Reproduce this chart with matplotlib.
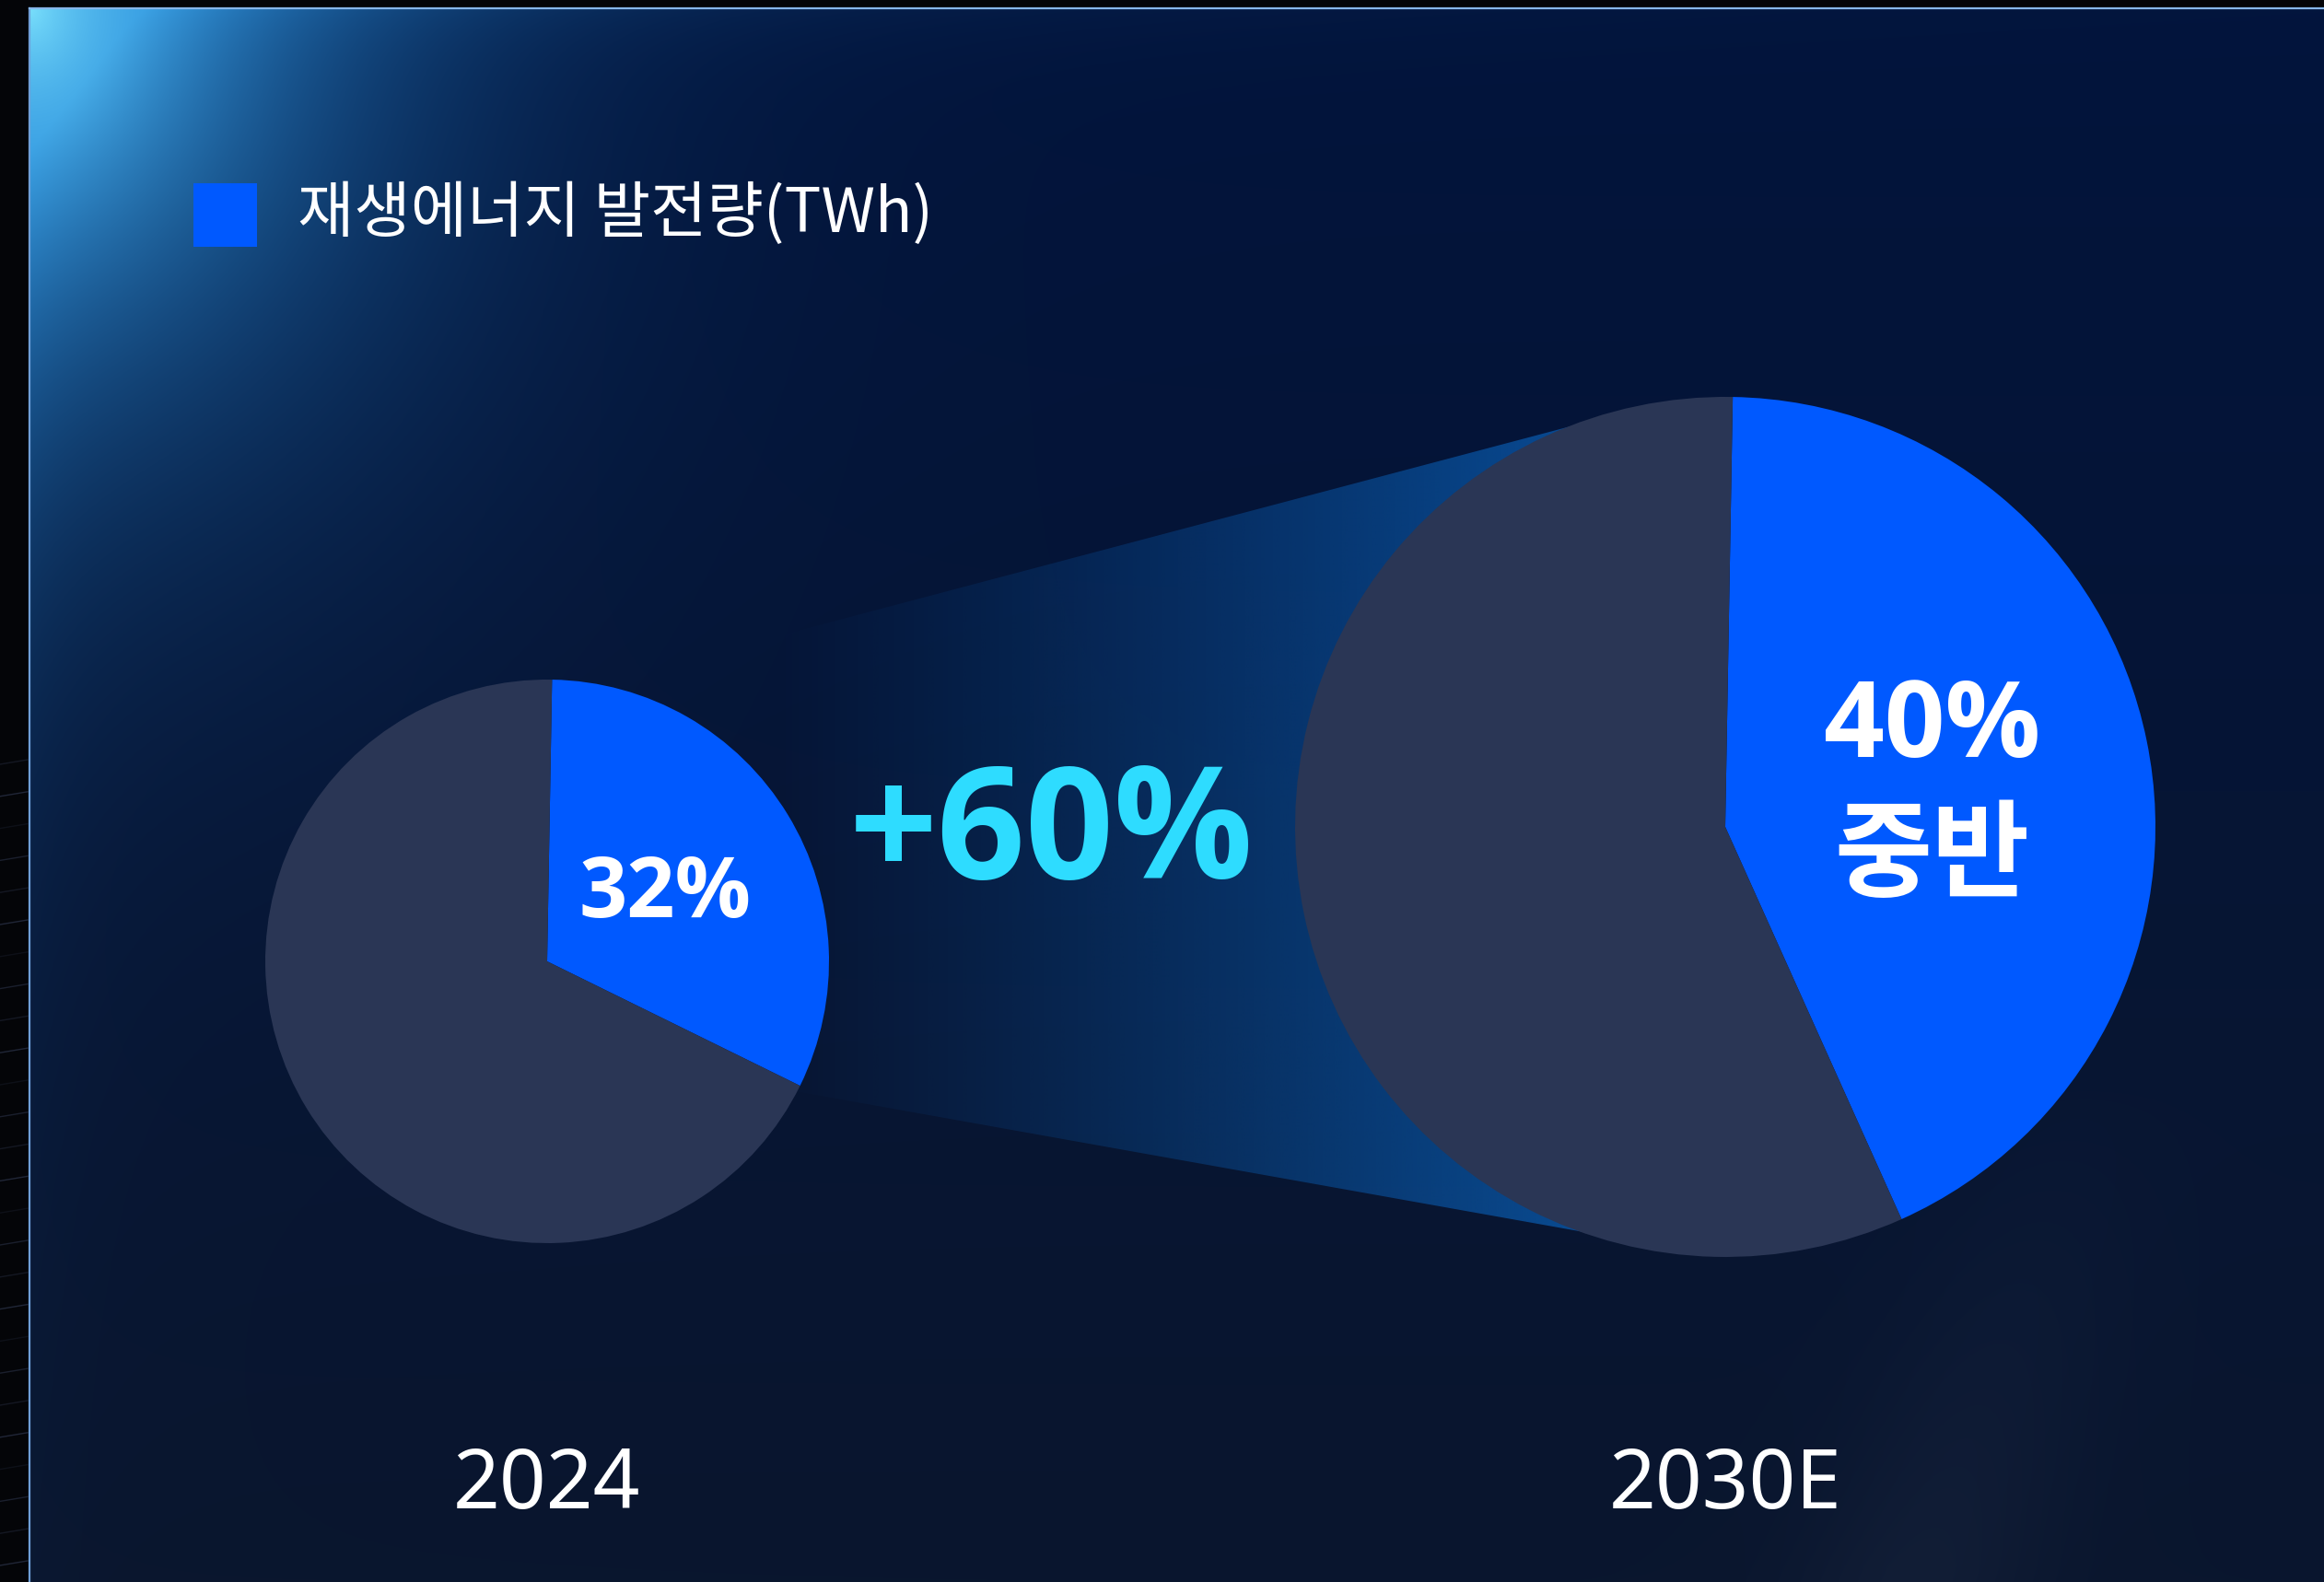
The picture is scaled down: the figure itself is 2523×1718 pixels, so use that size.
import numpy as np
import matplotlib
matplotlib.use("Agg")
import matplotlib.pyplot as plt
import matplotlib.colors as mcolors
from matplotlib.patches import Polygon, Rectangle

plt.rcParams["font.family"] = ["Noto Sans CJK KR", "DejaVu Sans"]
BOLD_FONT = ["Open Sans", "Noto Sans CJK KR"]
THIN_FONT = ["Noto Sans", "Noto Sans CJK KR"]

W, H = 2523, 1718

# data
years = ["2024", "2030E"]
shares = [32, 43]                      # 재생에너지 비중(%)
share_labels = ["32%", "40%\n중반"]
growth_label = "+60%"
legend_label = "재생에너지 발전량(TWh)"

BLUE = "#0059FF"
REST = "#2A3655"
CYAN = "#2EDCFF"

# layout (image pixel coords, y from top)
centers = [(594, 1044), (1873, 898)]
radii = [306, 467]
label_sizes = [66, 83]
label_nudge = [-6, -12]

fig = plt.figure(figsize=(W / 100, H / 100), dpi=100)
ax = fig.add_axes([0, 0, 1, 1])
ax.set_xlim(0, W); ax.set_ylim(0, H)
ax.axis("off")

# ---- background: navy gradient + glow in the top-left corner
yy, xx = np.mgrid[0:H, 0:W].astype(float)
t = yy / H
top = np.array([2, 20, 60]) / 255; bot = np.array([10, 22, 46]) / 255
bg = top[None, None, :] * (1 - t[..., None]) + bot[None, None, :] * t[..., None]
dx = np.clip(xx - 32, 0, None); dy = np.clip(yy - 9, 0, None)
d = np.sqrt((dx / 340) ** 2 + (dy / 390) ** 2)
g = np.exp(-d ** 1.4)
g = g + 0.3 * np.exp(-dx / 70) * np.exp(-dy / 600) + 0.2 * np.exp(-dy / 45) * np.exp(-dx / 800)
g = np.clip(g, 0, 1)
peak = np.array([38, 140, 220]) / 255
bg = bg + g[..., None] * (peak - bg)
hot = np.exp(-np.sqrt((dx / 130) ** 2 + (dy / 170) ** 2) * 1.4)
bg = bg + hot[..., None] * (np.array([130, 232, 255]) / 255 - bg) * 0.9
# faint lighter streak lower right
streak = np.exp(-((xx - 2080 + (yy - 1718) * 0.35) / 130) ** 2) * np.clip((yy - 1150) / 550, 0, 1)
bg = bg + streak[..., None] * 0.03
bg[(xx < 31) | (yy < 8)] = np.array([4, 5, 8]) / 255
ax.imshow(np.clip(bg, 0, 1), extent=[0, W, 0, H], origin="upper", aspect="auto", zorder=0)

# streaks in the black margin
for i, y0 in enumerate(np.linspace(830, 1700, 26)):
    ax.plot([0, 30], [H - y0, H - y0 + 5], color="#55648f", lw=1.0,
            alpha=[0.2, 0.35, 0.12, 0.28][i % 4], zorder=1)

# panel border
ax.plot([32, 32], [0, H - 9], color="#6f9fd8", lw=1.6, zorder=2)
ax.plot([32, W], [H - 9, H - 9], color="#86b6ea", lw=1.6, zorder=2)

# ---- cone between the pies
cone = np.array([(594, 757), (1754, 450), (1873, 898), (1759, 1345), (594, 1137)], float)
cone[:, 1] = H - cone[:, 1]
poly = Polygon(cone, closed=True, facecolor="none", edgecolor="none")
ax.add_patch(poly)
xs = np.linspace(0, 1, 500)
ramp = np.clip((xs - 0.18) / 0.82, 0, 1) ** 1.2
grad = np.zeros((2, 500, 4))
grad[..., :3] = mcolors.to_rgb("#0A5CB0")
grad[..., 3] = ramp * 0.92
im = ax.imshow(grad, extent=[594, 1873, H - 1345, H - 450], aspect="auto",
               interpolation="bilinear", zorder=1)
im.set_clip_path(poly)

# ---- pies
for (cx, cy), r, s, lab, fs, nud in zip(centers, radii, shares, share_labels,
                                          label_sizes, label_nudge):
    _, _, autotexts = ax.pie(
        [s, 100 - s], colors=[BLUE, REST], startangle=89, counterclock=False,
        center=(cx, H - cy), radius=r, frame=True,
        autopct=lambda p, lab=lab: lab if p < 50 else "", pctdistance=0.49,
        wedgeprops=dict(linewidth=0, zorder=3),
        textprops=dict(color="white", fontsize=fs, fontweight="bold",
                       family=BOLD_FONT, linespacing=1.33, zorder=4))
    for at in autotexts:
        x0, y0 = at.get_position()
        at.set_position((x0, y0 + nud))

for (cx, cy), yr in zip(centers, years):
    ax.text(cx, H - 1615, yr, ha="center", va="center", color="white",
            fontsize=64, fontweight="light", family=THIN_FONT)

ax.text(1141, H - 910, growth_label, ha="center", va="center", color=CYAN,
        fontsize=121, fontweight="bold", family=BOLD_FONT, zorder=4)

# legend
ax.add_patch(Rectangle((210, H - 268), 69, 69, facecolor=BLUE, edgecolor="none", zorder=3))
ax.text(323, H - 233, legend_label, ha="left", va="center", color="white",
        fontsize=48, fontweight="light", zorder=4)

ax.set_xlim(0, W); ax.set_ylim(0, H)
ax.set_aspect("auto")
fig.savefig("out.png", dpi=100)
